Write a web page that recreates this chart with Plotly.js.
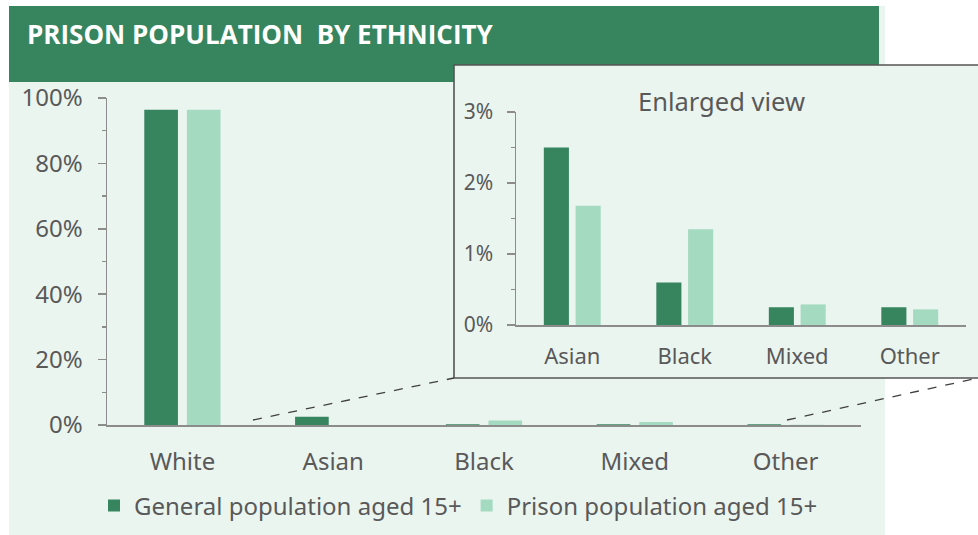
<!DOCTYPE html>
<html><head><meta charset="utf-8">
<script src="https://cdn.plot.ly/plotly-3.0.1.min.js"></script>
<style>
html,body{margin:0;padding:0;background:#fff;}
#chart{width:978px;height:535px;}
text[style*="Noto Sans"]{font-stretch:62.5%;}
</style></head><body><div id="chart"></div>
<script>
const categories = ['White','Asian','Black','Mixed','Other'];
const generalMain = [96.4, 2.5, 0.2, 0.2, 0.2];
const prisonMain = [96.4, 0, 1.4, 0.9, 0.1];
const insetCategories = ['Asian','Black','Mixed','Other'];
const generalInset = [2.5, 0.6, 0.25, 0.25];
const prisonInset = [1.68, 1.35, 0.29, 0.22];
const seriesNames = ['General population aged 15+','Prison population aged 15+'];
const mainTicks = [0,20,40,60,80,100];
const mainTickLabels = ['0%','20%','40%','60%','80%','100%'];
const insetTicks = [0,1,2,3];
const insetTickLabels = ['0%','1%','2%','3%'];

const W = 978, H = 535;
const px = x => x / W;
const py = y => 1 - y / H;
const DARK = '#36855F', LIGHT = '#A3DAC0', PANEL = '#EBF5F0', TXT = '#595959', AX = '#8C8C8C';
const FONT = "'Noto Sans ExtraCondensed', 'Noto Sans', sans-serif";

const traces = [
  {type:'bar', x:categories, y:generalMain, name:seriesNames[0], marker:{color:DARK}, xaxis:'x', yaxis:'y', hoverinfo:'skip'},
  {type:'bar', x:categories, y:prisonMain, name:seriesNames[1], marker:{color:LIGHT}, xaxis:'x', yaxis:'y', hoverinfo:'skip'},
  {type:'bar', x:insetCategories, y:generalInset, name:seriesNames[0], marker:{color:DARK}, xaxis:'x2', yaxis:'y2', showlegend:false, hoverinfo:'skip'},
  {type:'bar', x:insetCategories, y:prisonInset, name:seriesNames[1], marker:{color:LIGHT}, xaxis:'x2', yaxis:'y2', showlegend:false, hoverinfo:'skip'}
];

const layout = {
  width: W, height: H,
  margin: {l:0, r:0, t:0, b:0},
  paper_bgcolor: '#ffffff',
  plot_bgcolor: 'rgba(0,0,0,0)',
  barmode: 'group', bargap: 0.435, bargroupgap: 0.21,
  font: {family: FONT, color: TXT},
  showlegend: true,
  legend: {orientation:'h', x: px(94), xanchor:'left', y: py(506), yanchor:'middle',
           font:{family:FONT, size:24, color:TXT}, bgcolor:'rgba(0,0,0,0)', traceorder:'normal'},
  xaxis: {domain:[px(107), px(861)], anchor:'y', showline:true, linecolor:AX, linewidth:1.5,
          ticks:'', showgrid:false, zeroline:false, tickfont:{family:FONT, size:24, color:TXT},
          ticklabelstandoff: 15, fixedrange:true},
  yaxis: {domain:[py(425), py(98)], anchor:'x', range:[0,100], showline:true, linecolor:AX, linewidth:1.5,
          tickvals: mainTicks, ticktext: mainTickLabels, ticks:'outside', ticklen:8, tickcolor:AX, tickwidth:1.5,
          minor:{dtick:10, ticks:'outside', ticklen:4, tickcolor:AX, tickwidth:1.5, showgrid:false},
          showgrid:false, zeroline:false, tickfont:{family:FONT, size:24, color:TXT}, ticklabelstandoff: 10, fixedrange:true},
  xaxis2: {domain:[px(516), px(966)], anchor:'y2', showline:true, linecolor:AX, linewidth:1.5,
          ticks:'', showgrid:false, zeroline:false, tickfont:{family:FONT, size:22, color:TXT},
          ticklabelstandoff: 11, fixedrange:true},
  yaxis2: {domain:[py(325), py(112)], anchor:'x2', range:[0,3], showline:true, linecolor:AX, linewidth:1.5,
          tickvals: insetTicks, ticktext: insetTickLabels, ticks:'outside', ticklen:8, tickcolor:AX, tickwidth:1.5,
          minor:{dtick:0.5, ticks:'outside', ticklen:4, tickcolor:AX, tickwidth:1.5, showgrid:false},
          showgrid:false, zeroline:false, tickfont:{family:FONT, size:21, color:TXT}, ticklabelstandoff: 9, fixedrange:true},
  shapes: [
    {type:'rect', xref:'paper', yref:'paper', x0:px(9), x1:px(885), y0:py(6), y1:py(540), fillcolor:PANEL, line:{width:0}, layer:'below'},
    {type:'rect', xref:'paper', yref:'paper', x0:px(9), x1:px(879), y0:py(6), y1:py(82), fillcolor:DARK, line:{width:0}, layer:'below'},
    {type:'rect', xref:'paper', yref:'paper', x0:px(454), x1:px(990), y0:py(65), y1:py(378), fillcolor:PANEL, line:{width:1.6, color:'#555555'}, layer:'below'},
    {type:'line', xref:'paper', yref:'paper', x0:px(253), y0:py(420), x1:px(454), y1:py(378), line:{width:1.3, color:'#404040', dash:'dash'}},
    {type:'line', xref:'paper', yref:'paper', x0:px(787), y0:py(420), x1:px(978), y1:py(378), line:{width:1.3, color:'#404040', dash:'dash'}}
  ],
  annotations: [
    {xref:'paper', yref:'paper', x:px(25), y:py(34), xanchor:'left', yanchor:'middle', showarrow:false,
     text:'<b>PRISON POPULATION&nbsp; BY ETHNICITY</b>', font:{family:"'Open Sans', sans-serif", size:26, color:'#ffffff'}},
    {xref:'paper', yref:'paper', x:px(721), y:py(101), xanchor:'center', yanchor:'middle', showarrow:false,
     text:'Enlarged view', font:{family:FONT, size:25.5, color:TXT}}
  ]
};

Plotly.newPlot('chart', traces, layout, {staticPlot:true, displayModeBar:false});
</script></body></html>
